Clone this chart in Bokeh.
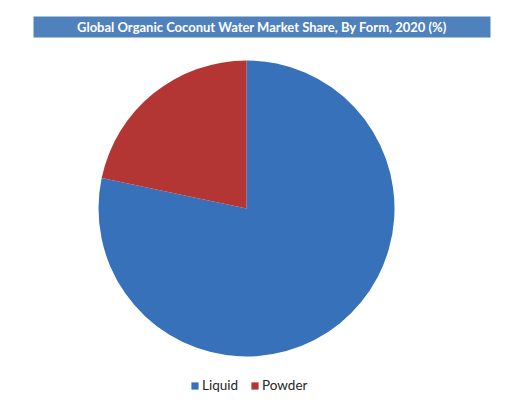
import numpy as np
from bokeh.plotting import figure
from bokeh.models import Range1d, ColumnDataSource, Legend, LegendItem
from bokeh.core.properties import value
from bokeh.embed import file_html
from bokeh.resources import INLINE

title = "Global Organic Coconut Water Market Share, By Form, 2020 (%)"
forms = ["Liquid", "Powder"]
shares = [78.3, 21.7]
colors = ["#3671b9", "#b43634"]

W, H = 506, 398
cx, cy, r = 246, 190, 148

frac = np.array(shares) / sum(shares)
edges = np.concatenate([[0], np.cumsum(frac)])
src = ColumnDataSource(dict(
    form=forms,
    start=np.pi / 2 - 2 * np.pi * edges[:-1],
    end=np.pi / 2 - 2 * np.pi * edges[1:],
    color=colors,
))

p = figure(width=W, height=H, x_range=Range1d(0, W), y_range=Range1d(0, H),
           output_backend="svg", toolbar_location=None, min_border=0)
p.axis.visible = False
p.grid.visible = False
p.outline_line_color = None

# title bar
p.quad(left=33, right=490, bottom=361, top=382, fill_color="#4f81bd", line_color=None)
p.text(x=[261.5], y=[371.5], text=[title], text_align="center", text_baseline="middle",
       text_color="white", text_font=value("Lato"), text_font_style="bold",
       text_font_size="13px")

wedges = p.wedge(x=cx, y=cy, radius=r, start_angle="start", end_angle="end",
                 direction="clock", fill_color="color", line_color=None, source=src)

legend = Legend(items=[LegendItem(label=f, renderers=[wedges], index=i) for i, f in enumerate(forms)],
                orientation="horizontal", location=(190, 5),
                glyph_width=9, glyph_height=9, label_standoff=3, spacing=12,
                padding=0, margin=0, border_line_color=None, background_fill_alpha=0,
                label_text_font="Lato", label_text_font_size="13.5px",
                label_text_color="#262626")
p.add_layout(legend, "center")

open("out.html", "w").write(file_html(p, INLINE))
